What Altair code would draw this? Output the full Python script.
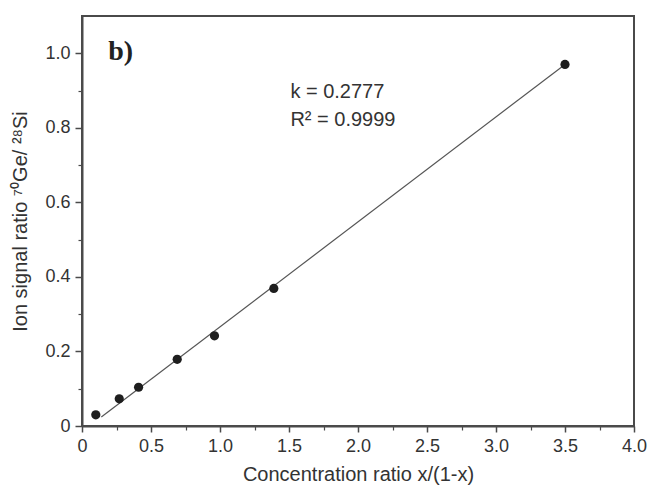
import altair as alt
import pandas as pd

# measured data points
conc_ratio = [0.10, 0.27, 0.41, 0.69, 0.96, 1.39, 3.50]
ion_ratio = [0.030, 0.073, 0.104, 0.179, 0.242, 0.369, 0.970]

# fitted line endpoints
fit_x = [0.14, 3.50]
fit_y = [0.024, 0.970]

# annotations
ann_text = ["k = 0.2777", "R² = 0.9999"]
ann_x = [1.51, 1.51]
ann_y = [0.896, 0.821]

panel_text = ["b)"]
panel_x = [0.19]
panel_y = [1.003]

x_major = [0, 0.5, 1.0, 1.5, 2.0, 2.5, 3.0, 3.5, 4.0]
x_minor = [0.25, 0.75, 1.25, 1.75, 2.25, 2.75, 3.25, 3.75]
y_major = [0, 0.2, 0.4, 0.6, 0.8, 1.0]
y_minor = [0.1, 0.3, 0.5, 0.7, 0.9]

pts = pd.DataFrame({"x": conc_ratio, "y": ion_ratio})
fit = pd.DataFrame({"x": fit_x, "y": fit_y})
ann = pd.DataFrame({"x": ann_x, "y": ann_y, "t": ann_text})
pan = pd.DataFrame({"x": panel_x, "y": panel_y, "t": panel_text})

FONT = "Liberation Sans"
AX = "#4a4a4a"
TXT = "#333"
xs = alt.Scale(domain=[0, 4.0], nice=False, zero=False)
ys = alt.Scale(domain=[0, 1.1], nice=False, zero=False)
lblexpr = "datum.value == 0 ? '0' : format(datum.value, '.1f')"

x_main_axis = alt.Axis(values=x_major, labelExpr=lblexpr, title="Concentration ratio x/(1-x)",
                       tickSize=6, tickColor=AX, tickWidth=1.5, domainColor=AX, domainWidth=2,
                       grid=False, labelFont=FONT, labelFontSize=18, labelColor=TXT,
                       labelFlush=False, labelOverlap=False,
                       labelPadding=5, titleFont=FONT, titleFontSize=20, titleFontWeight="normal",
                       titleColor=TXT, titlePadding=9, orient="bottom")
y_main_axis = alt.Axis(values=y_major, labelExpr=lblexpr, title="Ion signal ratio ⁷⁰Ge/ ²⁸Si",
                       tickSize=7, tickColor=AX, tickWidth=1.5, domainColor=AX, domainWidth=2,
                       grid=False, labelFont=FONT, labelFontSize=18, labelColor=TXT,
                       labelFlush=False, labelOverlap=False,
                       labelPadding=5, titleFont=FONT, titleFontSize=20, titleFontWeight="normal",
                       titleColor=TXT, titlePadding=14, orient="left")
x_minor_axis = alt.Axis(values=x_minor, labels=False, title=None, tickSize=4, tickColor=AX,
                        tickWidth=1.2, domain=False, grid=False, orient="bottom")
y_minor_axis = alt.Axis(values=y_minor, labels=False, title=None, tickSize=4, tickColor=AX,
                        tickWidth=1.2, domain=False, grid=False, orient="left")

points = alt.Chart(pts).mark_circle(size=85, color="#1e1e1e", opacity=1).encode(
    x=alt.X("x:Q", scale=xs, axis=x_main_axis),
    y=alt.Y("y:Q", scale=ys, axis=y_main_axis),
)
line = alt.Chart(fit).mark_line(color="#555", strokeWidth=1.2).encode(
    x=alt.X("x:Q", scale=xs, axis=x_minor_axis),
    y=alt.Y("y:Q", scale=ys, axis=y_minor_axis),
)
annot = alt.Chart(ann).mark_text(align="left", baseline="middle", font=FONT, fontSize=20,
                                 color=TXT).encode(
    x=alt.X("x:Q", scale=xs, axis=None), y=alt.Y("y:Q", scale=ys, axis=None), text="t:N")
panel = alt.Chart(pan).mark_text(align="left", baseline="middle", font="Liberation Serif",
                                 fontSize=28, fontWeight="bold", color="#222").encode(
    x=alt.X("x:Q", scale=xs, axis=None), y=alt.Y("y:Q", scale=ys, axis=None), text="t:N")

chart = alt.layer(line, points, annot, panel).resolve_axis(
    x="independent", y="independent"
).properties(
    width=552, height=410,
    autosize=alt.AutoSizeParams(type="none"),
    padding={"left": 74, "top": 8, "right": 14, "bottom": 61},
    background="white",
).configure_view(stroke=AX, strokeWidth=2)

chart.save("out.html", embed_options={"renderer": "svg", "actions": False})
